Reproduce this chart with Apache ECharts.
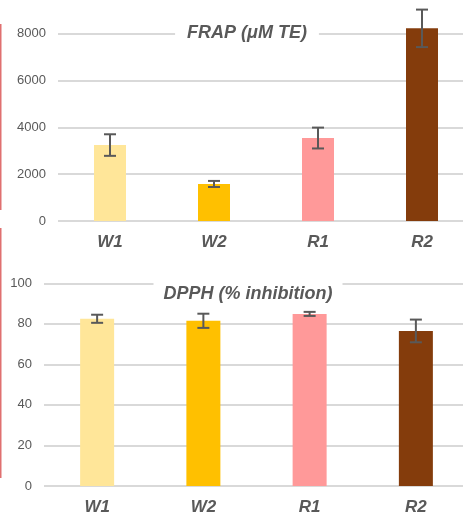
<!DOCTYPE html>
<html><head><meta charset="utf-8">
<script src="https://cdn.jsdelivr.net/npm/echarts@6/dist/echarts.min.js"></script>
<style>html,body{margin:0;padding:0;background:#fff}#c{width:463px;height:516px}</style>
</head><body><div id="c"></div>
<script>
const categories = ['W1', 'W2', 'R1', 'R2'];
const colors = ['#FFE699', '#FFC000', '#FF9999', '#843C0C'];
const frapValues = [3240, 1580, 3540, 8220];
const frapErrors = [460, 130, 445, 800];
const dpphValues = [82.5, 81.5, 84.9, 76.5];
const dpphErrors = [2, 3.5, 1, 5.6];
const frapTicks = { min: 0, max: 8000, interval: 2000 };
const dpphTicks = { min: 0, max: 100, interval: 20 };

const chart = echarts.init(document.getElementById('c'), null, { renderer: 'canvas' });
const labelFont = { fontFamily: 'Liberation Sans, Arial, sans-serif' };

function errSeries(idx, values, errors) {
  return {
    type: 'custom', xAxisIndex: idx, yAxisIndex: idx, clip: false, z: 5,
    data: values.map((v, i) => [i, v - errors[i], v + errors[i]]),
    renderItem: function (params, api) {
      const lo = api.coord([api.value(0), api.value(1)]);
      const hi = api.coord([api.value(0), api.value(2)]);
      const x = lo[0], hw = 6;
      const st = { stroke: '#595959', lineWidth: 2, fill: null };
      return { type: 'group', children: [
        { type: 'line', shape: { x1: x, y1: lo[1], x2: x, y2: hi[1] }, style: st },
        { type: 'line', shape: { x1: x - hw, y1: lo[1], x2: x + hw, y2: lo[1] }, style: st },
        { type: 'line', shape: { x1: x - hw, y1: hi[1], x2: x + hw, y2: hi[1] }, style: st }
      ]};
    }
  };
}

function xAxis(idx) {
  return {
    type: 'category', gridIndex: idx, data: categories,
    axisLine: { show: false }, axisTick: { show: false },
    axisLabel: { color: '#595959', fontSize: 17, fontWeight: 'bold', fontStyle: 'italic', margin: 13, ...labelFont }
  };
}
function yAxis(idx, t) {
  return {
    type: 'value', gridIndex: idx, min: t.min, max: t.max, interval: t.interval,
    axisLine: { show: false }, axisTick: { show: false },
    axisLabel: { color: '#595959', fontSize: 13, margin: 12, formatter: v => String(v), ...labelFont },
    splitLine: { lineStyle: { color: '#D9D9D9', width: 2 } }
  };
}

chart.setOption({
  backgroundColor: '#fff',
  animation: false,
  title: [
    { text: 'FRAP (μM TE)', left: 235, top: 22, textAlign: 'center', backgroundColor: '#fff', padding: [2, 12],
      textStyle: { color: '#595959', fontSize: 18, fontWeight: 'bold', fontStyle: 'italic', ...labelFont } },
    { text: 'DPPH (% inhibition)', left: 238, top: 283, textAlign: 'center', backgroundColor: '#fff', padding: [2, 10],
      textStyle: { color: '#595959', fontSize: 18, fontWeight: 'bold', fontStyle: 'italic', ...labelFont } }
  ],
  grid: [
    { left: 58, width: 416, top: 33.5, height: 187.5, outerBoundsMode: 'none', containLabel: false },
    { left: 44, width: 425, top: 283.3, height: 202.7, outerBoundsMode: 'none', containLabel: false }
  ],
  xAxis: [xAxis(0), xAxis(1)],
  yAxis: [yAxis(0, frapTicks), yAxis(1, dpphTicks)],
  series: [
    { type: 'bar', xAxisIndex: 0, yAxisIndex: 0, barWidth: 32, clip: false,
      data: frapValues.map((v, i) => ({ value: v, itemStyle: { color: colors[i] } })) },
    errSeries(0, frapValues, frapErrors),
    { type: 'bar', xAxisIndex: 1, yAxisIndex: 1, barWidth: 34, clip: false,
      data: dpphValues.map((v, i) => ({ value: v, itemStyle: { color: colors[i] } })) },
    errSeries(1, dpphValues, dpphErrors)
  ],
  graphic: [
    { type: 'rect', left: 0, top: 24, shape: { width: 1.5, height: 186 }, style: { fill: '#E07070' } },
    { type: 'rect', left: 0, top: 228, shape: { width: 1.5, height: 250 }, style: { fill: '#E07070' } }
  ]
});
</script></body></html>
